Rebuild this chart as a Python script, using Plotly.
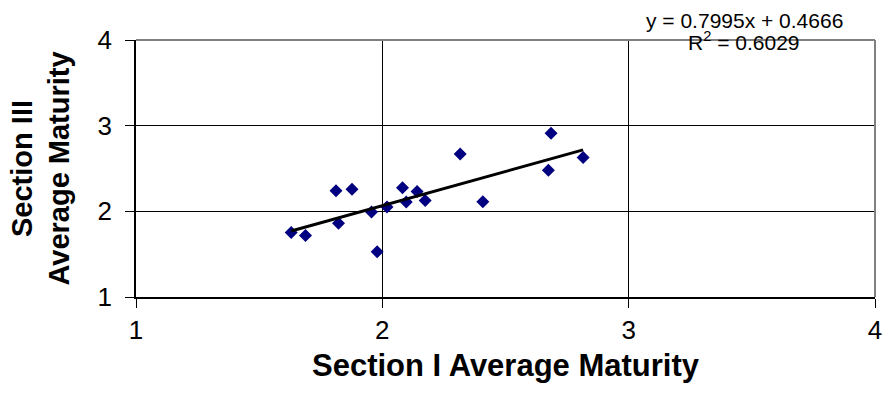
import plotly.graph_objects as go

# Data
section1 = [1.630, 1.688, 1.812, 1.877, 1.822, 1.956, 1.979, 2.019, 2.082, 2.097,
            2.141, 2.174, 2.316, 2.408, 2.674, 2.685, 2.815]
section3 = [1.753, 1.718, 2.240, 2.258, 1.861, 1.992, 1.528, 2.050, 2.275, 2.108,
            2.232, 2.127, 2.668, 2.112, 2.479, 2.911, 2.629]
slope = 0.7995
intercept = 0.4666
r_squared = 0.6029
tick_vals = [1, 2, 3, 4]

x_min, x_max = min(section1), max(section1)
trend_x = [x_min, x_max]
trend_y = [slope * v + intercept for v in trend_x]

FONT = "Liberation Sans, Arial, sans-serif"

fig = go.Figure()
fig.add_trace(go.Scatter(
    x=section1, y=section3, mode="markers",
    marker=dict(symbol="diamond", size=10, color="#000080"),
    showlegend=False, cliponaxis=False))
fig.add_trace(go.Scatter(
    x=trend_x, y=trend_y, mode="lines",
    line=dict(color="black", width=3), showlegend=False))

fig.update_layout(
    width=885, height=412,
    margin=dict(l=136, r=10, t=40, b=115),
    paper_bgcolor="white", plot_bgcolor="white",
    font=dict(family=FONT, color="black"),
    xaxis=dict(range=[1, 4], tickvals=tick_vals, showgrid=True, gridcolor="black",
               gridwidth=1, showline=True, linecolor="black", linewidth=1.5,
               ticks="outside", ticklen=9, tickcolor="black", tickwidth=1,
               tickfont=dict(size=26), ticklabelstandoff=0, zeroline=False,
               automargin=False,
               title=dict(text="<b>Section I Average Maturity</b>",
                          font=dict(size=31), standoff=10)),
    yaxis=dict(range=[1, 4], tickvals=tick_vals, showgrid=True, gridcolor="black",
               gridwidth=1, showline=True, linecolor="black", linewidth=1.5,
               ticks="outside", ticklen=9, tickcolor="black", tickwidth=1,
               tickfont=dict(size=26), ticklabelstandoff=8, zeroline=False,
               automargin=False,
               title=dict(text="<b>Section III<br>Average Maturity</b>",
                          font=dict(size=29), standoff=19)),
    shapes=[
        dict(type="line", xref="paper", yref="paper", x0=0, x1=1, y0=1, y1=1,
             line=dict(color="#808080", width=2), layer="above"),
        dict(type="line", xref="paper", yref="paper", x0=1, x1=1, y0=0, y1=1,
             line=dict(color="#808080", width=2), layer="above"),
    ],
    annotations=[
        dict(text=f"y = {slope}x + {intercept}", xref="paper", yref="paper",
             x=0.823, y=1.0, yshift=20, showarrow=False,
             font=dict(size=21), xanchor="center", yanchor="middle"),
        dict(text=f"R<sup>2</sup> = {r_squared}", xref="paper", yref="paper",
             x=0.823, y=1.0, yshift=-1, showarrow=False,
             font=dict(size=21), xanchor="center", yanchor="middle"),
    ],
)

fig.write_html("out.html",
               config={"displayModeBar": False},
               post_script="document.body.style.margin='0';document.body.style.overflow='hidden';")
